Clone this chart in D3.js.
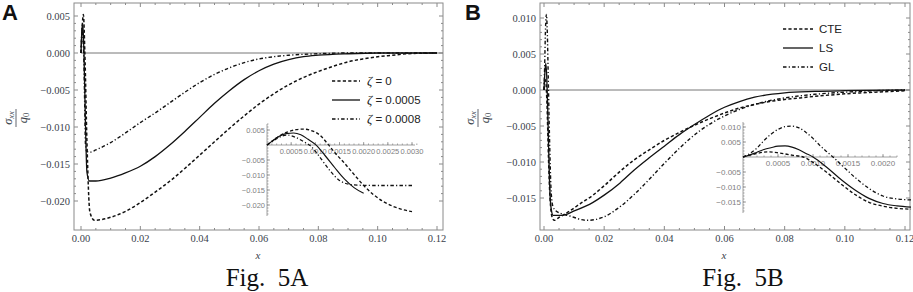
<!DOCTYPE html>
<html><head><meta charset="utf-8">
<script src="https://cdn.jsdelivr.net/npm/d3@7"></script>
<style>body{margin:0;background:#fff}svg{display:block}</style>
</head><body><svg id="c" width="913" height="292"></svg>
<script>
// ---------- tick values ----------
const xTicks = [0, 0.02, 0.04, 0.06, 0.08, 0.10, 0.12];
const yTicksA = [0.005, 0, -0.005, -0.010, -0.015, -0.020];
const yTicksB = [0.010, 0.005, 0, -0.005, -0.010, -0.015];
const insetXTicksA = [0.0005, 0.0010, 0.0015, 0.0020, 0.0025, 0.0030];
const insetYTicksA = [0.005, -0.005, -0.010, -0.015, -0.020];
const insetXTicksB = [0.0005, 0.0010, 0.0015, 0.0020];
const insetYTicksB = [0.010, 0.005, -0.005, -0.010, -0.015];
const legendA = ["0", "0.0005", "0.0008"];
const legendB = ["CTE", "LS", "GL"];
const captions = ["Fig.  5A", "Fig.  5B"];

// ---------- Panel A main series ----------
const aZeta0 = [[0,0],[0.0004,0.0035],[0.0008,0.0052],[0.0013,0.0],[0.002,-0.012],[0.003,-0.0215],[0.0045,-0.0226],[0.007,-0.0225],[0.01,-0.0222],[0.015,-0.0214],[0.02,-0.0202],[0.025,-0.0188],[0.03,-0.0173],[0.035,-0.0156],[0.04,-0.0138],[0.045,-0.012],[0.05,-0.0102],[0.055,-0.0085],[0.06,-0.0069],[0.065,-0.0055],[0.07,-0.0043],[0.075,-0.0033],[0.08,-0.0025],[0.085,-0.0018],[0.09,-0.0012],[0.095,-0.0008],[0.1,-0.0005],[0.105,-0.0003],[0.11,-0.0001],[0.12,0]];
const aZeta5 = [[0,0],[0.0003,0.003],[0.0005,0.004],[0.0008,0.0025],[0.001,0.0],[0.0015,-0.0095],[0.002,-0.0161],[0.0028,-0.0173],[0.005,-0.0173],[0.01,-0.0169],[0.015,-0.0162],[0.02,-0.0153],[0.025,-0.014],[0.03,-0.0124],[0.035,-0.0106],[0.04,-0.0087],[0.045,-0.0068],[0.05,-0.0051],[0.055,-0.0036],[0.06,-0.0024],[0.065,-0.0015],[0.07,-0.0009],[0.075,-0.0005],[0.08,-0.0003],[0.09,-0.0001],[0.1,0],[0.12,0]];
const aZeta8 = [[0,0],[0.0004,0.0033],[0.0006,0.002],[0.0009,0.0],[0.0012,-0.006],[0.0015,-0.0123],[0.0019,-0.0133],[0.003,-0.0134],[0.005,-0.0131],[0.01,-0.0121],[0.015,-0.0108],[0.02,-0.0094],[0.025,-0.0081],[0.03,-0.0067],[0.035,-0.0053],[0.04,-0.004],[0.045,-0.0029],[0.05,-0.002],[0.055,-0.0013],[0.06,-0.0008],[0.065,-0.0005],[0.07,-0.0003],[0.08,-0.0001],[0.09,0],[0.12,0]];

// ---------- Panel A inset series ----------
const aInZeta0 = [[0,0],[0.0002,0.0024],[0.0004,0.0042],[0.0006,0.0051],[0.00075,0.0053],[0.0009,0.0049],[0.0011,0.0032],[0.00125,0.0005],[0.0014,-0.0025],[0.0016,-0.006],[0.0018,-0.0098],[0.002,-0.0135],[0.0022,-0.0165],[0.0024,-0.0188],[0.0026,-0.0204],[0.0028,-0.0215],[0.003,-0.0222]];
const aInZeta5 = [[0,0],[0.0001,0.0012],[0.0002,0.0024],[0.0003,0.0033],[0.0004,0.0038],[0.00055,0.004],[0.0007,0.0034],[0.00085,0.0019],[0.001,0.0002],[0.0012,-0.0035],[0.0014,-0.0075],[0.0016,-0.0113],[0.0018,-0.0142],[0.002,-0.0161]];
const aInZeta8 = [[0,0],[0.0001,0.001],[0.0002,0.0021],[0.0003,0.0029],[0.00043,0.0033],[0.0006,0.0025],[0.00075,0.0012],[0.0009,-0.0003],[0.0011,-0.0042],[0.0013,-0.0085],[0.0015,-0.0118],[0.0017,-0.0131],[0.0019,-0.0134],[0.0022,-0.0135],[0.0026,-0.0135],[0.003,-0.0135]];

// ---------- Panel B main series ----------
const bCTE = [[0,0],[0.0003,0.0015],[0.0006,0.0012],[0.001,-0.002],[0.0015,-0.0095],[0.002,-0.015],[0.0028,-0.0178],[0.0035,-0.0181],[0.005,-0.0177],[0.0086,-0.0168],[0.012,-0.0158],[0.0163,-0.0146],[0.02,-0.0133],[0.025,-0.0114],[0.03,-0.0097],[0.035,-0.0083],[0.04,-0.007],[0.045,-0.0059],[0.05,-0.0049],[0.055,-0.004],[0.06,-0.0032],[0.065,-0.0025],[0.07,-0.002],[0.075,-0.0016],[0.085,-0.0011],[0.095,-0.0007],[0.105,-0.0004],[0.115,-0.0002],[0.12,-0.0001]];
const bLS = [[0,0],[0.0003,0.0025],[0.0006,0.0037],[0.0009,0.002],[0.0012,-0.002],[0.0016,-0.009],[0.002,-0.0145],[0.0025,-0.0168],[0.003,-0.0174],[0.006,-0.0174],[0.01,-0.0168],[0.0163,-0.0156],[0.02,-0.0146],[0.0253,-0.0129],[0.03,-0.0111],[0.035,-0.0094],[0.04,-0.0078],[0.045,-0.0062],[0.05,-0.0048],[0.055,-0.0035],[0.06,-0.0024],[0.065,-0.0016],[0.07,-0.001],[0.08,-0.0004],[0.09,-0.0002],[0.1,-0.0001],[0.12,0]];
const bGL = [[0,0],[0.0002,0.003],[0.0005,0.0085],[0.0008,0.0105],[0.0011,0.008],[0.0014,0.002],[0.0018,-0.006],[0.0024,-0.0143],[0.003,-0.0162],[0.004,-0.0168],[0.0086,-0.0175],[0.0143,-0.0181],[0.02,-0.0176],[0.0253,-0.0162],[0.03,-0.0145],[0.035,-0.0124],[0.04,-0.0102],[0.045,-0.0081],[0.052,-0.0056],[0.06,-0.0036],[0.065,-0.0027],[0.07,-0.002],[0.08,-0.0011],[0.09,-0.0006],[0.1,-0.0003],[0.11,-0.0001],[0.12,0]];

// ---------- Panel B inset series ----------
const bInCTE = [[0,0],[0.0001,0.0006],[0.0002,0.0012],[0.00035,0.0017],[0.0005,0.0014],[0.0007,0.0006],[0.00086,0],[0.001,-0.0018],[0.0012,-0.0052],[0.0014,-0.009],[0.0016,-0.0125],[0.0018,-0.0151],[0.002,-0.0164],[0.0022,-0.0171],[0.0024,-0.0174]];
const bInLS = [[0,0],[0.0001,0.0007],[0.0002,0.0016],[0.0003,0.0025],[0.0004,0.0031],[0.0005,0.0036],[0.0006,0.0037],[0.0007,0.0033],[0.0008,0.0024],[0.0009,0.0012],[0.001,0],[0.0012,-0.0035],[0.0014,-0.0075],[0.0016,-0.011],[0.0018,-0.0138],[0.002,-0.0155],[0.0022,-0.0163],[0.0024,-0.0167]];
const bInGL = [[0,0],[0.0001,0.0012],[0.0002,0.003],[0.0003,0.0055],[0.0004,0.0076],[0.0005,0.0092],[0.0006,0.0101],[0.0007,0.0103],[0.0008,0.0097],[0.0009,0.0082],[0.001,0.0062],[0.0011,0.0038],[0.0012,0.0017],[0.0013,-0.0003],[0.0014,-0.0025],[0.0016,-0.0068],[0.0018,-0.0105],[0.002,-0.013],[0.0022,-0.014],[0.0024,-0.0143]];

// ---------- styles ----------
const STY = {
  dash: {dash: "3.2,2.2", w: 1.5},
  solid: {dash: null, w: 1.3},
  dashdot: {dash: "3.5,2.2,1.2,2.2", w: 1.4}
};
const FRAME = "#8a8a8a", LABEL = "#3a3f4c", INSET = "#8c8c8c";
const SERIF = "'Liberation Serif','Times New Roman',Times,'DejaVu Serif',serif";
const SANS = "'Liberation Sans',Arial,sans-serif";

const svg = d3.select("#c");

function range(a, b, step) { const out = []; const n = Math.round((b - a) / step); for (let i = 0; i <= n; i++) out.push(+(a + i * step).toFixed(6)); return out; }

function panel(cfg) {
  const g = svg.append("g");
  const x = d3.scaleLinear().domain([0, 0.12]).range(cfg.xr);
  const y = d3.scaleLinear().domain(cfg.yd).range(cfg.yr);
  const [fx0, fx1, fy0, fy1] = cfg.frame;
  const majY = cfg.yTicks, minY = range(d3.min(majY), d3.max(majY), 0.001).filter(v => !majY.some(m => Math.abs(m - v) < 1e-7));
  const minX = range(0, 0.12, 0.005).filter(v => !xTicks.some(m => Math.abs(m - v) < 1e-7));

  // frame ticks
  const tk = g.append("g").attr("stroke", FRAME).attr("stroke-width", 1);
  const addT = (vals, len, side) => vals.forEach(v => {
    if (side === "b") tk.append("line").attr("x1", x(v)).attr("x2", x(v)).attr("y1", fy1).attr("y2", fy1 - len);
    if (side === "t") tk.append("line").attr("x1", x(v)).attr("x2", x(v)).attr("y1", fy0).attr("y2", fy0 + len);
    if (side === "l") tk.append("line").attr("y1", y(v)).attr("y2", y(v)).attr("x1", fx0).attr("x2", fx0 + len);
    if (side === "r") tk.append("line").attr("y1", y(v)).attr("y2", y(v)).attr("x1", fx1).attr("x2", fx1 - len);
  });
  addT(xTicks, 4, "b"); addT(xTicks, 4, "t"); addT(minX, 2, "b"); addT(minX, 2, "t");
  addT(majY, 4, "l"); addT(majY, 4, "r"); addT(minY, 2, "l"); addT(minY, 2, "r");
  g.append("rect").attr("x", fx0).attr("y", fy0).attr("width", fx1 - fx0).attr("height", fy1 - fy0)
    .attr("fill", "none").attr("stroke", FRAME).attr("stroke-width", 1);

  // tick labels
  g.selectAll(null).data(xTicks).join("text").attr("x", d => x(d)).attr("y", fy1 + 12)
    .attr("text-anchor", "middle").attr("font-family", SERIF).attr("font-size", 10.5).attr("fill", LABEL)
    .text(d => d3.format(".2f")(d));
  g.selectAll(null).data(majY).join("text").attr("x", fx0 - 4).attr("y", d => y(d) + 3.5)
    .attr("text-anchor", "end").attr("font-family", SERIF).attr("font-size", 10.5).attr("fill", LABEL)
    .text(d => d3.format(".3f")(d));

  // zero axis
  g.append("line").attr("x1", x(0)).attr("x2", fx1).attr("y1", y(0)).attr("y2", y(0)).attr("stroke", "#777").attr("stroke-width", 1);

  // curves
  const cid = "clip" + cfg.id;
  svg.append("clipPath").attr("id", cid).append("rect").attr("x", fx0).attr("y", fy0).attr("width", fx1 - fx0).attr("height", fy1 - fy0);
  const cg = g.append("g").attr("clip-path", `url(#${cid})`);
  const line = d3.line().x(d => x(d[0])).y(d => y(d[1])).curve(d3.curveMonotoneX);
  cfg.series.forEach(s => {
    cg.append("path").datum(s.data).attr("d", line).attr("fill", "none").attr("stroke", "#111")
      .attr("stroke-width", STY[s.sty].w).attr("stroke-dasharray", STY[s.sty].dash);
  });

  // inset
  const ix = d3.scaleLinear().domain([0, cfg.inset.xmax]).range(cfg.inset.xr);
  const iy = d3.scaleLinear().domain(cfg.inset.yd).range(cfg.inset.yr);
  const ig = g.append("g");
  const ia = ig.append("g").attr("stroke", INSET).attr("stroke-width", 0.8);
  ia.append("line").attr("x1", ix(0)).attr("x2", cfg.inset.axX1).attr("y1", iy(0)).attr("y2", iy(0));
  ia.append("line").attr("x1", ix(0)).attr("x2", ix(0)).attr("y1", cfg.inset.axY0).attr("y2", cfg.inset.axY1);
  const ixMinor = range(0.0001, ix.invert(cfg.inset.axX1), 0.0001);
  ixMinor.forEach(v => ia.append("line").attr("x1", ix(v)).attr("x2", ix(v)).attr("y1", iy(0)).attr("y2", iy(0) - 1.5));
  cfg.inset.xt.forEach(v => ia.append("line").attr("x1", ix(v)).attr("x2", ix(v)).attr("y1", iy(0)).attr("y2", iy(0) - 3));
  const iyMinor = range(iy.invert(cfg.inset.axY1) - ((iy.invert(cfg.inset.axY1)) % 0.001), iy.invert(cfg.inset.axY0), 0.001);
  iyMinor.forEach(v => { if (iy(v) >= cfg.inset.axY0 && iy(v) <= cfg.inset.axY1) ia.append("line").attr("y1", iy(v)).attr("y2", iy(v)).attr("x1", ix(0)).attr("x2", ix(0) + 1.5); });
  cfg.inset.yt.forEach(v => ia.append("line").attr("y1", iy(v)).attr("y2", iy(v)).attr("x1", ix(0)).attr("x2", ix(0) + 3));
  ig.selectAll(null).data(cfg.inset.xt).join("text").attr("x", d => ix(d)).attr("y", iy(0) + cfg.inset.fs + 1)
    .attr("text-anchor", "middle").attr("font-family", SANS).attr("font-size", cfg.inset.fs).attr("fill", "#808080")
    .text(d => d3.format(".4f")(d));
  ig.selectAll(null).data(cfg.inset.yt).join("text").attr("x", ix(0) - 2).attr("y", d => iy(d) + cfg.inset.fs * 0.35)
    .attr("text-anchor", "end").attr("font-family", SANS).attr("font-size", cfg.inset.fs).attr("fill", "#808080")
    .text(d => d3.format(".3f")(d));
  const iline = d3.line().x(d => ix(d[0])).y(d => iy(d[1])).curve(d3.curveMonotoneX);
  cfg.inset.series.forEach(s => {
    ig.append("path").datum(s.data).attr("d", iline).attr("fill", "none").attr("stroke", "#111")
      .attr("stroke-width", STY[s.sty].w * 0.9).attr("stroke-dasharray", STY[s.sty].dash);
  });

  // legend
  const lg = g.append("g");
  cfg.legend.items.forEach((it, i) => {
    const ly = cfg.legend.y0 + i * cfg.legend.dy;
    lg.append("line").attr("x1", cfg.legend.x0).attr("x2", cfg.legend.x1).attr("y1", ly).attr("y2", ly)
      .attr("stroke", "#111").attr("stroke-width", STY[it.sty].w).attr("stroke-dasharray", STY[it.sty].dash);
    const t = lg.append("text").attr("x", cfg.legend.tx).attr("y", ly + 4).attr("font-family", SANS)
      .attr("font-size", 11.5).attr("fill", "#222");
    if (it.zeta) {
      t.append("tspan").attr("font-style", "italic").attr("font-family", SERIF).attr("font-size", 13).text("ζ");
      t.append("tspan").text(" = " + it.label);
    } else t.text(it.label);
  });

  // axis title x
  g.append("text").attr("x", cfg.xLabelX).attr("y", 259).attr("text-anchor", "middle").attr("font-family", SERIF)
    .attr("font-style", "italic").attr("font-size", 11).attr("fill", LABEL).text("x");
  // y title: fraction rotated
  const yl = g.append("g").attr("transform", `translate(${cfg.yLabelX},118) rotate(-90)`);
  const num = yl.append("text").attr("x", 0).attr("y", -4).attr("text-anchor", "middle").attr("font-family", SERIF)
    .attr("font-size", 12.5).attr("fill", LABEL);
  num.append("tspan").attr("font-style", "italic").text("σ");
  num.append("tspan").attr("font-style", "italic").attr("font-size", 8.5).attr("dy", 2).text("xx");
  yl.append("line").attr("x1", -9).attr("x2", 9).attr("y1", 0).attr("y2", 0).attr("stroke", LABEL).attr("stroke-width", 0.8);
  const den = yl.append("text").attr("x", 0).attr("y", 11).attr("text-anchor", "middle").attr("font-family", SERIF)
    .attr("font-size", 12.5).attr("fill", LABEL);
  den.append("tspan").attr("font-style", "italic").text("q");
  den.append("tspan").attr("font-size", 8.5).attr("dy", 2).text("0");

  // panel letter & caption
  g.append("text").attr("x", cfg.letterX).attr("y", 20).attr("font-family", SANS).attr("font-weight", "bold")
    .attr("font-size", 22).attr("fill", "#111").text(cfg.letter);
  g.append("text").attr("x", cfg.capX).attr("y", 286).attr("text-anchor", "middle").attr("font-family", SERIF)
    .attr("font-size", 25).attr("fill", "#111").style("white-space", "pre").text(cfg.caption);
}

panel({
  id: "A", letter: "A", letterX: 2, caption: captions[0], capX: 267, xLabelX: 258, yLabelX: 16,
  frame: [74, 443, 3, 230], xr: [81, 437], yd: [-0.02, 0.005], yr: [201, 16], yTicks: yTicksA,
  series: [{data: aZeta0, sty: "dash"}, {data: aZeta5, sty: "solid"}, {data: aZeta8, sty: "dashdot"}],
  inset: {xmax: 0.003, xr: [267, 412], yd: [-0.02, 0.005], yr: [205, 130], axX1: 415, axY0: 124, axY1: 216,
    xt: insetXTicksA, yt: insetYTicksA, fs: 7.5,
    series: [{data: aInZeta0, sty: "dash"}, {data: aInZeta5, sty: "solid"}, {data: aInZeta8, sty: "dashdot"}]},
  legend: {x0: 332, x1: 360, tx: 367, y0: 81, dy: 19,
    items: [{label: legendA[0], sty: "dash", zeta: true}, {label: legendA[1], sty: "solid", zeta: true}, {label: legendA[2], sty: "dashdot", zeta: true}]}
});

panel({
  id: "B", letter: "B", letterX: 465, caption: captions[1], capX: 743, xLabelX: 724, yLabelX: 478,
  frame: [540, 910, 3, 230], xr: [544, 905], yd: [-0.015, 0.010], yr: [198, 18], yTicks: yTicksB,
  series: [{data: bCTE, sty: "dash"}, {data: bLS, sty: "solid"}, {data: bGL, sty: "dashdot"}],
  inset: {xmax: 0.002, xr: [743, 883], yd: [-0.015, 0.010], yr: [202, 127], axX1: 897, axY0: 122, axY1: 213,
    xt: insetXTicksB, yt: insetYTicksB, fs: 8,
    series: [{data: bInCTE, sty: "dash"}, {data: bInLS, sty: "solid"}, {data: bInGL, sty: "dashdot"}]},
  legend: {x0: 783, x1: 813, tx: 819, y0: 29, dy: 19,
    items: [{label: legendB[0], sty: "dash"}, {label: legendB[1], sty: "solid"}, {label: legendB[2], sty: "dashdot"}]}
});
</script></body></html>
